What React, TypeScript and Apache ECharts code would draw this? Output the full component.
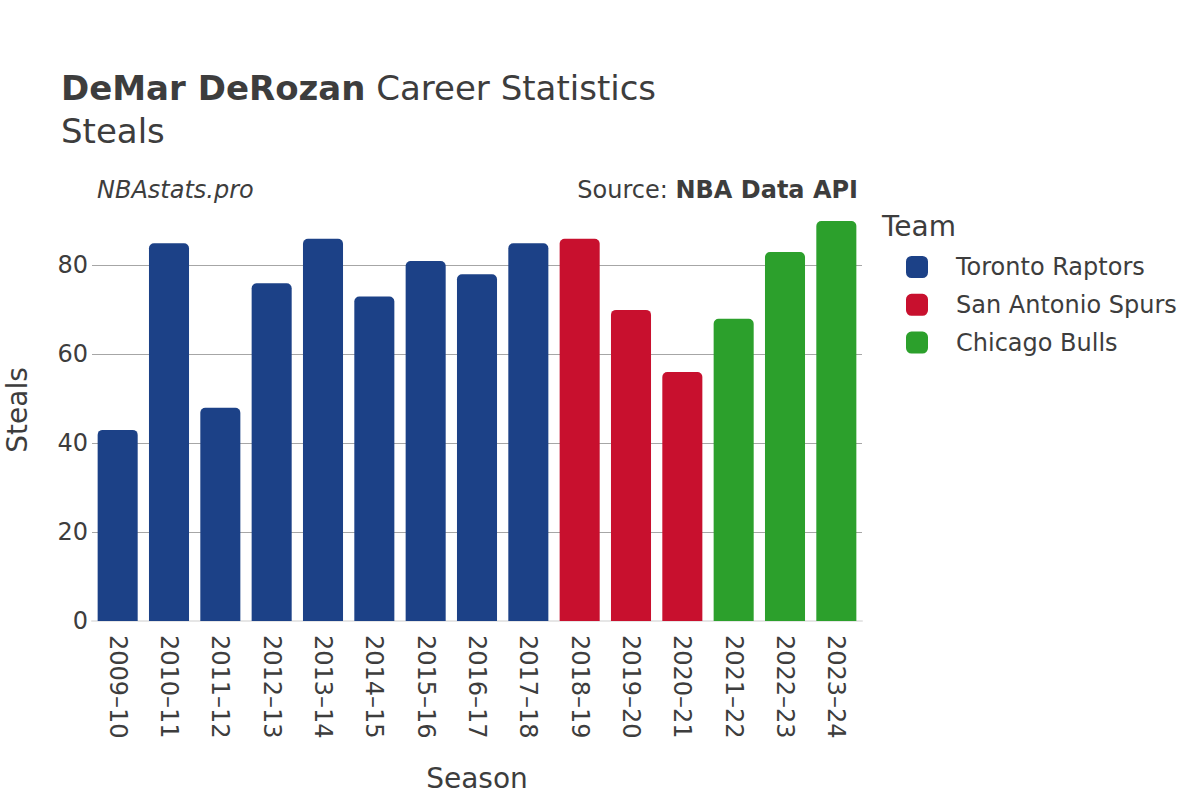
import React, { useEffect, useRef } from "react";
import * as echarts from "echarts";

const seasons = [
  "2009–10", "2010–11", "2011–12", "2012–13", "2013–14", "2014–15", "2015–16",
  "2016–17", "2017–18", "2018–19", "2019–20", "2020–21", "2021–22", "2022–23", "2023–24",
];
const seasonTeams = [
  "Toronto Raptors", "Toronto Raptors", "Toronto Raptors", "Toronto Raptors", "Toronto Raptors",
  "Toronto Raptors", "Toronto Raptors", "Toronto Raptors", "Toronto Raptors",
  "San Antonio Spurs", "San Antonio Spurs", "San Antonio Spurs",
  "Chicago Bulls", "Chicago Bulls", "Chicago Bulls",
];
const steals = [43, 85, 48, 76, 86, 73, 81, 78, 85, 86, 70, 56, 68, 83, 90];
const teams = ["Toronto Raptors", "San Antonio Spurs", "Chicago Bulls"];
const teamColors = ["#1c4187", "#c8102e", "#2ca02c"];
const yTicks = [0, 20, 40, 60, 80];

const FONT = "DejaVu Sans";
const TEXT = "#3d3d3d";

export default function App() {
  const ref = useRef<HTMLDivElement>(null);
  useEffect(() => {
    if (!ref.current) return;
    const chart = echarts.init(ref.current, null, { renderer: "svg" });
    const series = teams.map((team, ti) => ({
      name: team,
      type: "bar",
      stack: "all",
      barCategoryGap: "22%",
      itemStyle: {
        color: teamColors[ti],
        borderRadius: [5, 5, 0, 0],
      },
      data: steals.map((v, i) => (seasonTeams[i] === team ? v : "-")),
    }));
    chart.setOption({
      animation: false,
      backgroundColor: "#ffffff",
      textStyle: { fontFamily: FONT },
      grid: { left: 92, right: 338, top: 221, bottom: 179, outerBoundsMode: "none", containLabel: false },
      legend: {
        data: teams,
        orient: "vertical",
        left: 901,
        top: 250,
        icon: "roundRect",
        itemWidth: 22,
        itemHeight: 22,
        itemGap: 13.8,
        textStyle: { fontFamily: FONT, fontSize: 24, color: TEXT, padding: [0, 0, 0, 23] },
      },
      xAxis: {
        type: "category",
        data: seasons,
        name: "Season",
        nameLocation: "middle",
        nameGap: 143,
        nameTextStyle: { fontFamily: FONT, fontSize: 28, color: TEXT },
        axisLine: { show: true, lineStyle: { color: "#e6e6e6", width: 2 } },
        axisTick: { show: false },
        axisLabel: {
          rotate: -90,
          margin: 14,
          fontFamily: FONT,
          fontSize: 24,
          color: TEXT,
        },
      },
      yAxis: {
        type: "value",
        min: 0,
        max: 90,
        interval: 20,
        axisLine: { show: false },
        axisTick: { show: false },
        axisLabel: {
          fontFamily: FONT,
          fontSize: 24,
          color: TEXT,
          margin: 4,
          showMaxLabel: false,
          formatter: (v: number) => (yTicks.includes(v) ? String(v) : ""),
        },
        splitLine: {
          show: true,
          lineStyle: {
            color: ["transparent", "#a6a6a6", "#a6a6a6", "#a6a6a6", "#a6a6a6", "transparent"],
            width: 1,
          },
        },
      },
      series,
      graphic: [
        {
          type: "text",
          left: 61,
          top: 71,
          style: {
            text: "{b|DeMar DeRozan}{n| Career Statistics}",
            rich: {
              b: { fontFamily: FONT, fontSize: 34, fontWeight: "bold", fill: TEXT },
              n: { fontFamily: FONT, fontSize: 34, fill: TEXT },
            },
          },
        },
        {
          type: "text",
          left: 61,
          top: 114,
          style: { text: "Steals", fontFamily: FONT, fontSize: 34, fill: TEXT },
        },
        {
          type: "text",
          x: 17,
          y: 410,
          rotation: Math.PI / 2,
          style: {
            text: "Steals",
            fontFamily: FONT,
            fontSize: 28,
            fill: TEXT,
            align: "center",
            verticalAlign: "middle",
          },
        },
        {
          type: "text",
          left: 97,
          top: 178,
          style: {
            text: "NBAstats.pro",
            fontFamily: FONT,
            fontSize: 24,
            fontStyle: "italic",
            fill: TEXT,
          },
        },
        {
          type: "text",
          right: 342,
          top: 178,
          style: {
            text: "Source: {b|NBA Data API}",
            fontFamily: FONT,
            fontSize: 24,
            fill: TEXT,
            rich: {
              b: { fontFamily: FONT, fontSize: 24, fontWeight: "bold", fill: TEXT },
            },
          },
        },
        {
          type: "text",
          left: 882,
          top: 212,
          style: { text: "Team", fontFamily: FONT, fontSize: 28, fill: TEXT },
        },
      ],
    });
    return () => chart.dispose();
  }, []);
  return <div ref={ref} style={{ width: 1200, height: 800, position: "absolute", left: 0, top: 0 }} />;
}
